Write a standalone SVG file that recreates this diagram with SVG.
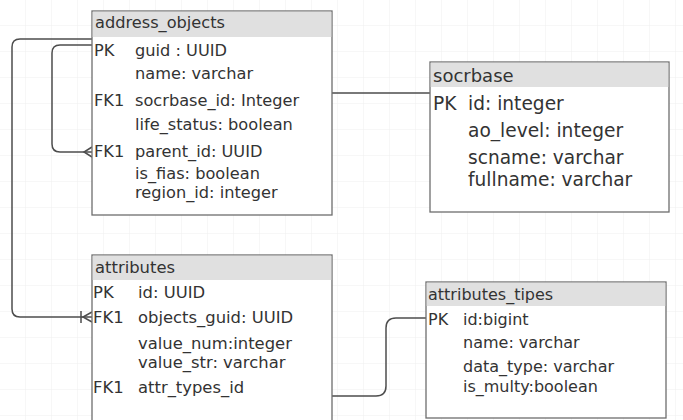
<svg xmlns="http://www.w3.org/2000/svg" width="683" height="420" viewBox="0 0 683 420">
<defs>
<pattern id="grid" width="26" height="26" patternUnits="userSpaceOnUse">
<path d="M26 0V26M0 26H26" fill="none" stroke="#efefef" stroke-width="1"/>
</pattern>
</defs>
<style>
.box{fill:#fff;stroke:#6e6e6e;stroke-width:1.3}
.hdr{fill:#e0e0e0}
.t{font-family:"DejaVu Sans",Verdana,sans-serif;fill:#333}
.s15{font-size:16.2px}
.s15b{font-size:16.4px}
.s16{font-size:16px}
.s18{font-size:18px}
.s18b{font-size:18.6px}
.conn{fill:none;stroke:#4d4d4d;stroke-width:1.5}
</style>
<rect width="683" height="420" fill="#fff"/>
<rect width="683" height="420" fill="url(#grid)"/>

<g id="connectors">
<path class="conn" d="M92 39 H20 Q12 39 12 47 V309 Q12 317 20 317 H92"/>
<path class="conn" d="M92 45 H60 Q52 45 52 53 V144 Q52 152 60 152 H92"/>
<path class="conn" d="M92 147 L84 152 L92 157"/>
<path class="conn" d="M92 312 L83 317 L92 322 M81 311 V323"/>
<path class="conn" d="M332 93 H430"/>
<path class="conn" d="M332 396 H376 Q386 396 386 386 V328 Q386 318 396 318 H426"/>
</g>

<g id="address_objects">
<rect class="box" x="92" y="11" width="240" height="204"/>
<rect class="hdr" x="92.7" y="11.7" width="238.6" height="25.3"/>
<text class="t s15" x="95" y="28">address_objects</text>
<text class="t s15" x="94" y="56">PK</text>
<text class="t s15" x="135" y="56">guid : UUID</text>
<text class="t s15" x="135" y="79">name: varchar</text>
<text class="t s15" x="94" y="106">FK1</text>
<text class="t s15" x="135" y="106">socrbase_id: Integer</text>
<text class="t s15" x="135" y="130">life_status: boolean</text>
<text class="t s15" x="94" y="157">FK1</text>
<text class="t s15" x="135" y="157">parent_id: UUID</text>
<text class="t s15" x="135" y="178.5">is_fias: boolean</text>
<text class="t s15" x="135" y="197.5">region_id: integer</text>
</g>

<g id="socrbase">
<rect class="box" x="430" y="62" width="239" height="150"/>
<rect class="hdr" x="430.7" y="62.7" width="237.6" height="24.3"/>
<text class="t s18" x="433" y="82">socrbase</text>
<text class="t s18b" x="433" y="110">PK</text>
<text class="t s18b" x="468" y="110">id: integer</text>
<text class="t s18b" x="468" y="137">ao_level: integer</text>
<text class="t s18b" x="468" y="164">scname: varchar</text>
<text class="t s18b" x="468" y="186">fullname: varchar</text>
</g>

<g id="attributes">
<rect class="box" x="92" y="255" width="240" height="175"/>
<rect class="hdr" x="92.7" y="255.7" width="238.6" height="24.3"/>
<text class="t s15b" x="95" y="273">attributes</text>
<text class="t s15b" x="93" y="298">PK</text>
<text class="t s15b" x="138" y="298">id: UUID</text>
<text class="t s15b" x="93" y="323">FK1</text>
<text class="t s15b" x="138" y="323">objects_guid: UUID</text>
<text class="t s15b" x="138" y="349">value_num:integer</text>
<text class="t s15b" x="138" y="368">value_str: varchar</text>
<text class="t s15b" x="93" y="393">FK1</text>
<text class="t s15b" x="138" y="393">attr_types_id</text>
</g>

<g id="attributes_tipes">
<rect class="box" x="426" y="282" width="240" height="136"/>
<rect class="hdr" x="426.7" y="282.7" width="238.6" height="23.3"/>
<text class="t s16" x="428" y="300">attributes_tipes</text>
<text class="t s16" x="428" y="325">PK</text>
<text class="t s16" x="463" y="325">id:bigint</text>
<text class="t s16" x="463" y="348">name: varchar</text>
<text class="t s16" x="463" y="372">data_type: varchar</text>
<text class="t s16" x="463" y="392">is_multy:boolean</text>
</g>
</svg>
